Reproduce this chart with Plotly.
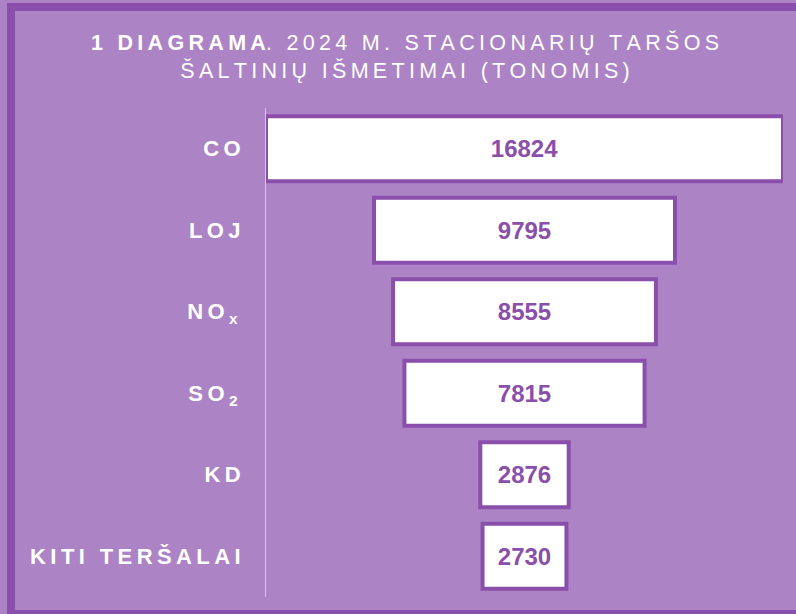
import plotly.graph_objects as go

# ---- data ----
categories = ["CO", "LOJ", "NO<sub>x</sub>", "SO<sub>2</sub>", "KD", "KITI TERŠALAI"]
values = [16824, 9795, 8555, 7815, 2876, 2730]
title_bold = "1 DIAGRAMA"
title_rest = ". 2024 M. STACIONARIŲ TARŠOS"
title_line2 = "ŠALTINIŲ IŠMETIMAI (TONOMIS)"

# ---- style ----
BG = "#ac84c5"
DARK = "#8a4fab"
W, H = 796, 614
L, R, T, B = 266, 13, 108, 17
TS = "\u2009"  # thin space used as letter spacing


def spaced(s):
    out = []
    i = 0
    while i < len(s):
        if s[i] == "<":
            j = s.index(">", i)
            out.append(s[i:j + 1])
            i = j + 1
            continue
        out.append(s[i])
        if i + 1 < len(s):
            out.append(TS)
        i += 1
    return "".join(out)


tick_text = [spaced(c) for c in categories]

fig = go.Figure(
    go.Funnel(
        y=categories,
        x=values,
        texttemplate="%{x:.0f}",
        textposition="inside",
        insidetextanchor="middle",
        textfont=dict(family="Liberation Sans, Arial, sans-serif", size=24, color=DARK, weight="bold"),
        marker=dict(color="white", line=dict(color=DARK, width=4)),
        connector=dict(visible=False),
        hoverinfo="skip",
    )
)

pw = W - L - R
ph = H - T - B


def px_x(px):
    return (px - L) / pw


def px_y(py):
    return (H - B - py) / ph


fig.add_shape(
    type="rect", xref="paper", yref="paper",
    x0=px_x(11), x1=px_x(820), y0=px_y(614), y1=px_y(7),
    line=dict(color=DARK, width=8), fillcolor="rgba(0,0,0,0)", layer="below",
)

half = max(values) / 2
fig.update_layout(
    width=W, height=H,
    margin=dict(l=L, r=R, t=T, b=B),
    paper_bgcolor=BG, plot_bgcolor=BG,
    bargap=0.26,
    showlegend=False,
    title=dict(
        text="<b>" + spaced(title_bold) + "</b>" + spaced(title_rest) + "<br>" + spaced(title_line2),
        x=405 / W, xref="container", xanchor="center",
        y=1 - 50 / H, yref="container", yanchor="top",
        font=dict(family="Liberation Sans, Arial, sans-serif", size=21.5, color="white"),
    ),
    xaxis=dict(range=[-half, half], visible=False, fixedrange=True),
    yaxis=dict(
        tickmode="array", tickvals=categories, ticktext=tick_text,
        tickfont=dict(family="Liberation Sans, Arial, sans-serif", size=22, color="white", weight="bold"),
        showline=True, linecolor="#d6c6e2", linewidth=1,
        showgrid=False, zeroline=False, ticks="",
        ticklabelstandoff=20, fixedrange=True,
    ),
)

fig.write_html("out.html", config={"displayModeBar": False},
               post_script="document.body.style.margin='0';")
